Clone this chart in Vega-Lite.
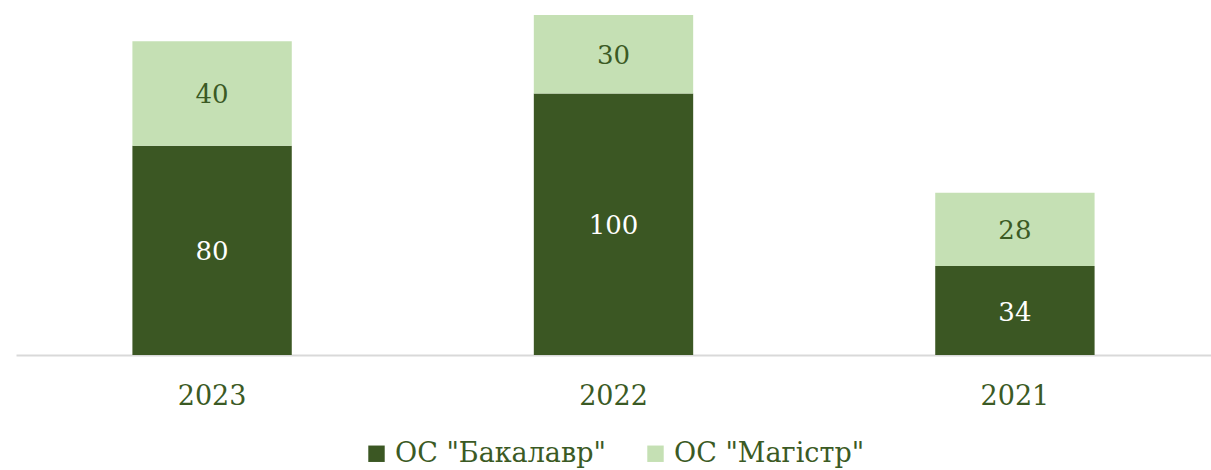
{
  "$schema": "https://vega.github.io/schema/vega-lite/v6.json",
  "autosize": "none",
  "width": 1195,
  "height": 340,
  "padding": {"left": 16, "top": 15, "right": 0, "bottom": 115},
  "background": "white",
  "config": {
    "view": {"stroke": null}
  },
  "data": {"values": [
    {"year": "2023", "level": "ОС \"Бакалавр\"", "ord": 1, "value": 80},
    {"year": "2023", "level": "ОС \"Магістр\"", "ord": 2, "value": 40},
    {"year": "2022", "level": "ОС \"Бакалавр\"", "ord": 1, "value": 100},
    {"year": "2022", "level": "ОС \"Магістр\"", "ord": 2, "value": 30},
    {"year": "2021", "level": "ОС \"Бакалавр\"", "ord": 1, "value": 34},
    {"year": "2021", "level": "ОС \"Магістр\"", "ord": 2, "value": 28}
  ]},
  "transform": [
    {"stack": "value", "groupby": ["year"], "sort": [{"field": "ord"}], "as": ["v0", "v1"]},
    {"calculate": "(datum.v0 + datum.v1) / 2", "as": "vmid"}
  ],
  "encoding": {
    "x": {
      "field": "year", "type": "nominal", "sort": ["2023", "2022", "2021"],
      "scale": {"paddingInner": 0.603, "paddingOuter": 0.29},
      "axis": {
        "title": null, "labelAngle": 0, "ticks": false, "domain": true,
        "domainColor": "#D9D9D9", "domainWidth": 2,
        "labelFont": "DejaVu Serif", "labelFontSize": 27, "labelColor": "#3B5A24",
        "labelPadding": 28
      }
    }
  },
  "layer": [
    {
      "mark": {"type": "bar"},
      "encoding": {
        "y": {"field": "v0", "type": "quantitative", "scale": {"domain": [0, 130], "nice": false}, "axis": null},
        "y2": {"field": "v1"},
        "color": {
          "field": "level", "type": "nominal",
          "scale": {"domain": ["ОС \"Бакалавр\"", "ОС \"Магістр\""], "range": ["#3B5723", "#C5E0B4"]},
          "legend": {
            "title": null, "orient": "none", "legendX": 347, "legendY": 425, "direction": "horizontal",
            "symbolType": "square", "symbolSize": 270, "symbolStrokeWidth": 0,
            "labelFont": "DejaVu Serif", "labelFontSize": 27, "labelColor": "#3B5A24",
            "labelLimit": 500, "columnPadding": 36, "symbolOffset": 0, "labelOffset": 5
          }
        }
      }
    },
    {
      "mark": {"type": "text", "font": "DejaVu Serif", "fontSize": 26, "baseline": "middle", "dy": 2},
      "encoding": {
        "y": {"field": "vmid", "type": "quantitative", "scale": {"domain": [0, 130], "nice": false}},
        "text": {"field": "value", "type": "quantitative"},
        "color": {
          "condition": {"test": "datum.ord == 1", "value": "#FFFFFF"},
          "value": "#3B5A24"
        }
      }
    }
  ]
}
